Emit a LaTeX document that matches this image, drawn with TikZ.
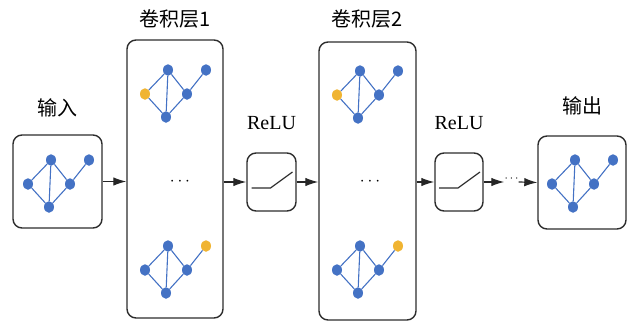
\documentclass[tikz,border=0pt]{standalone}
\usepackage{fontspec}
\setmainfont{Liberation Serif}
\newfontfamily\cjk{Noto Sans CJK SC}
\usetikzlibrary{arrows.meta, positioning, shapes.geometric}

\definecolor{nodeblue}{RGB}{68,114,196}
\definecolor{nodeorange}{RGB}{240,180,50}
\definecolor{boxgray}{RGB}{45,45,45}

% small graph: #1 name prefix, #2 centre, #3 colour of left node, #4 colour of far right node
\newcommand{\graphlet}[4]{
	\begin{scope}[shift = {#2}]
		\node [gnode, fill = #3] (#1l) at (-29.5, 2.5) {};
		\node [gnode] (#1t) at (-6.5, -21.5) {};
		\node [gnode] (#1m) at (12.5, 2.5) {};
		\node [gnode] (#1b) at (-8.5, 25.5) {};
		\node [gnode, fill = #4] (#1r) at (31.5, -21.5) {};
		\draw [gedge] (#1l) -- (#1t) -- (#1b) -- (#1l);
		\draw [gedge] (#1t) -- (#1m) -- (#1b);
		\draw [gedge] (#1m) -- (#1r);
	\end{scope}
}

\begin{document}
\begin{tikzpicture}[x = 1pt, y = -1pt,
	gnode/.style = {ellipse, fill = nodeblue, inner sep = 0pt, minimum width = 10pt, minimum height = 11.5pt},
	gedge/.style = {nodeblue, line width = 1.1pt},
	layer/.style = {draw = boxgray, line width = 1.4pt, rounded corners = 9pt},
	layertitle/.style = {inner sep = 0pt, font = \fontsize{20}{24}\selectfont},
	flow/.style = {-{Latex[length = 13pt, width = 8.5pt]}, line width = 1.2pt, black!85}]

	\useasboundingbox (0, 0) rectangle (629, 324);

	% Boxes
	
	\node [layer, minimum width = 89pt, minimum height = 93pt] (input) at (57.5, 181.5) {};
	\node [layer, minimum width = 96pt, minimum height = 278pt] (conv1) at (175, 179) {};
	\node [layer, minimum width = 49pt, minimum height = 58pt] (relu1) at (271.5, 182) {};
	\node [layer, minimum width = 97pt, minimum height = 278pt] (conv2) at (367.5, 181) {};
	\node [layer, minimum width = 48pt, minimum height = 58pt] (relu2) at (459, 182) {};
	\node [layer, minimum width = 88pt, minimum height = 93pt] (output) at (582, 182.5) {};
	
	% Titles
	
	\node [layertitle, above = 17pt of input] {\cjk 输入};
	\node [layertitle, above = 11pt of conv1] {\cjk 卷积层1};
	\node [layertitle, above = 22pt of relu1] {ReLU};
	\node [layertitle, above = 13pt of conv2] {\cjk 卷积层2};
	\node [layertitle, above = 22pt of relu2] {ReLU};
	\node [layertitle, above = 20pt of output] {\cjk 输出};
	
	% Graphs
	
	\graphlet{in}{(57.5, 181.5)}{nodeblue}{nodeblue}
	\graphlet{ca}{(174.5, 91.5)}{nodeorange}{nodeblue}
	\graphlet{cb}{(174.5, 267.5)}{nodeblue}{nodeorange}
	\graphlet{da}{(366.5, 92.5)}{nodeorange}{nodeblue}
	\graphlet{db}{(366.5, 267.5)}{nodeblue}{nodeorange}
	\graphlet{out}{(581.5, 181.5)}{nodeblue}{nodeblue}
	
	\node [inner sep = 0pt, font = \fontsize{18}{18}\selectfont] (dots1) at (180, 182) {$\cdots$};
	\node [inner sep = 0pt, font = \fontsize{18}{18}\selectfont] (dots2) at (370, 182) {$\cdots$};
	\node [inner sep = 0pt, font = \fontsize{12}{12}\selectfont] (dotsmid) at (511.5, 179) {$\cdots$};
	
	% ReLU curves
	
	\draw [line width = 1.2pt, boxgray] ([shift = {(-20, 6)}] relu1.center) -- ++(19, 0) -- ++(22, -16);
	\draw [line width = 1.2pt, boxgray] ([shift = {(-20, 6)}] relu2.center) -- ++(19, 0) -- ++(22, -16);
	
	% Arrows
	
	\draw [flow] (input.east) -- (input.east -| conv1.west);
	\draw [flow] (relu1.west -| conv1.east) -- (relu1.west);
	\draw [flow] (relu1.east) -- (relu1.east -| conv2.west);
	\draw [flow] (relu2.west -| conv2.east) -- (relu2.west);
	\draw [flow] (relu2.east) -- (relu2.east -| dotsmid.west);
	\draw [flow] (relu2.east -| dotsmid.east) -- (output.west);
	
\end{tikzpicture}
\end{document}
